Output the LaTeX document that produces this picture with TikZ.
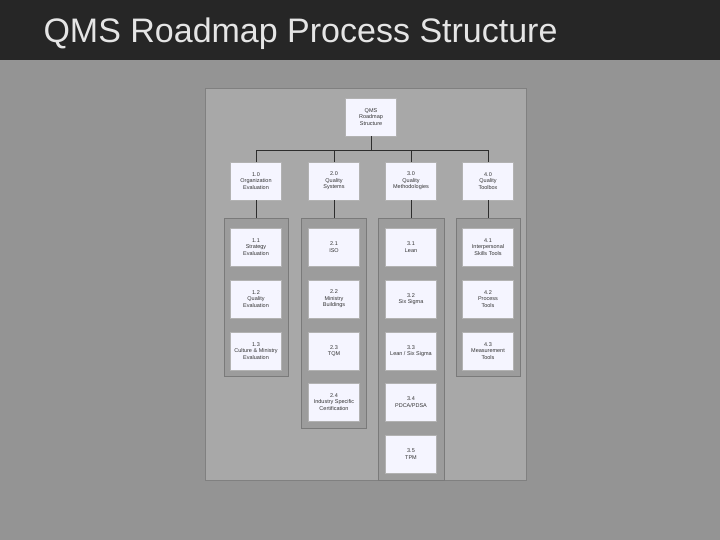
\documentclass[tikz,border=0pt]{standalone}
\usepackage{fontspec}
\setmainfont{Liberation Sans}
\begin{document}
\begin{tikzpicture}[x=1pt,y=-1pt,
  box/.style={draw=gray!60,fill=blue!4,minimum width=51pt,minimum height=38pt,inner sep=1pt,align=center,font=\fontsize{5.5}{6.5}\selectfont,text=gray!40!black},
  grp/.style={draw=black!52,fill=black!39},
  ln/.style={draw=gray!35!black,line width=0.6pt}]
\useasboundingbox (0,0) rectangle (720,540);
\fill[black!42] (0,0) rectangle (720,540);
\fill[black!85] (0,0) rectangle (720,60);
\node[text=gray!20,font=\fontsize{34}{38}\selectfont,anchor=west] (title) at (40,34) {QMS Roadmap Process Structure};
\draw[black!50,fill=black!34] (205,88) rectangle (526,480);
\draw[grp] (224,218) rectangle (288,376);
\draw[grp] (301,218) rectangle (366,428);
\draw[grp] (378,218) rectangle (444,480);
\draw[grp] (456,218) rectangle (520,376);
\node[box] (top) at (371,117) {QMS\\Roadmap\\Structure};
\node[box] (a) at (256,181) {1.0\\Organization\\Evaluation};
\node[box] (b) at (334,181) {2.0\\Quality\\Systems};
\node[box] (c) at (411,181) {3.0\\Quality\\Methodologies};
\node[box] (d) at (488,181) {4.0\\Quality\\Toolbox};
\coordinate (hl) at (256,150); \coordinate (hr) at (488,150);
\coordinate (hm) at (371,150);
\draw[ln] (hl) -- (hr); \draw[ln] (top.south) -- (hm);
\foreach \n in {a,b,c,d} \draw[ln] (\n.north) -- (\n.north |- hm);
\foreach \n/\x in {a/256,b/334,c/411,d/488} {\coordinate (\n g) at (\x,218); \draw[ln] (\n.south) -- (\n g);}
\node[box] (a1) at (256,247) {1.1\\Strategy\\Evaluation};
\node[box] (a2) at (256,299) {1.2\\Quality\\Evaluation};
\node[box] (a3) at (256,351) {1.3\\Culture \& Ministry\\Evaluation};
\node[box] (b1) at (334,247) {2.1\\ISO};
\node[box] (b2) at (334,299) {2.2\\Ministry\\Buildings};
\node[box] (b3) at (334,351) {2.3\\TQM};
\node[box] (b4) at (334,402) {2.4\\Industry Specific\\Certification};
\node[box] (c1) at (411,247) {3.1\\Lean};
\node[box] (c2) at (411,299) {3.2\\Six Sigma};
\node[box] (c3) at (411,351) {3.3\\Lean / Six Sigma};
\node[box] (c4) at (411,402) {3.4\\PDCA/PDSA};
\node[box] (c5) at (411,454) {3.5\\TPM};
\node[box] (d1) at (488,247) {4.1\\Interpersonal\\Skills Tools};
\node[box] (d2) at (488,299) {4.2\\Process\\Tools};
\node[box] (d3) at (488,351) {4.3\\Measurement\\Tools};
\end{tikzpicture}
\end{document}
